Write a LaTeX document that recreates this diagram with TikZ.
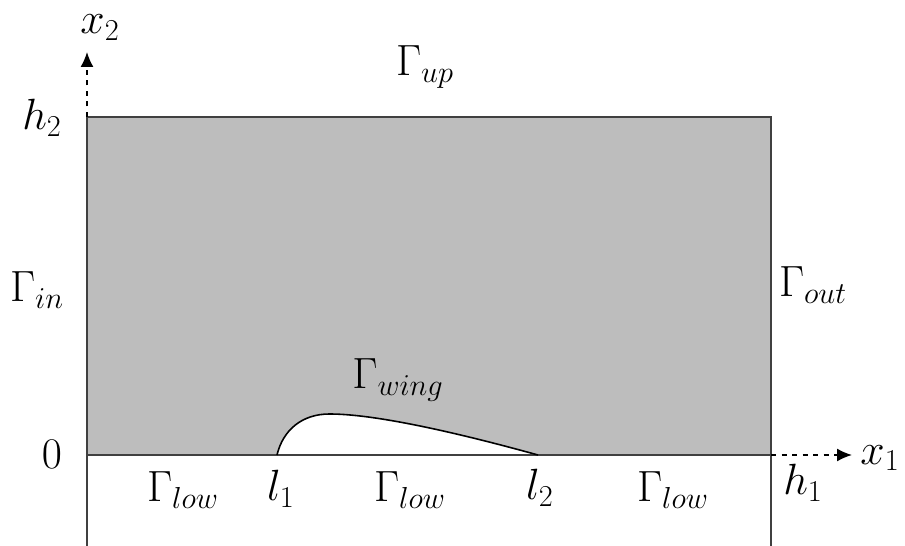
\documentclass[tikz,border=0pt]{standalone}
\usepackage{amsmath}
\usepackage{amssymb}
\usepackage{tikz}
\usetikzlibrary{positioning}
\usetikzlibrary{arrows.meta}

\begin{document}
\begin{tikzpicture}[scale=1,
  lbl/.style={font=\fontsize{23}{28}\selectfont,inner sep=1pt},
  wall/.style={draw=black!75,line width=1.1pt},
  axis/.style={dashed,line width=0.9pt,-{Latex[length=3mm,width=2.6mm]}}]
  \useasboundingbox (-1.74,-1.82) rectangle (16.36,9.1);
  \coordinate (o) at (0,0);
  \coordinate (br) at (13.68,0);
  \coordinate (tr) at (13.68,6.76);
  \coordinate (tl) at (0,6.76);
  \coordinate (lb) at (0,-1.82);
  \coordinate (rb) at (13.68,-1.82);
  \coordinate (ax2) at (0,8.06);
  \coordinate (ax1) at (15.3,0);
  \coordinate (w1) at (3.8,0);
  \coordinate (w2) at (9.02,0);
  % domain
  \fill[black!26] (o) rectangle (tr);
  \fill[white] (w1) .. controls (3.92,0.5) and (4.3,0.82) .. (4.85,0.82)
    .. controls (5.8,0.82) and (7.5,0.42) .. (w2) -- cycle;
  \draw[wall] (lb) -- (tl) -- (tr) -- (rb);
  \draw[wall] (o) -- (br);
  \draw[line width=0.9pt] (w1) .. controls (3.92,0.5) and (4.3,0.82) .. (4.85,0.82)
    .. controls (5.8,0.82) and (7.5,0.42) .. (w2);
  % axes
  \draw[axis] (tl) -- (ax2);
  \draw[axis] (br) -- (ax1);
  \node[lbl] (x2) at (0.26,8.55) {$x_2$};
  \node[lbl] (x1) at (15.86,-0.06) {$x_1$};
  \node[lbl] (h2) at (-0.9,6.74) {$h_2$};
  \node[lbl] (zero) at (-0.7,0.02) {$0$};
  \node[lbl] (h1) at (14.32,-0.56) {$h_1$};
  % boundaries
  \node[lbl] (gup) at (6.76,7.76) {$\Gamma_{up}$};
  \node[lbl] (gin) at (-1.0,3.3) {$\Gamma_{in}$};
  \node[lbl] (gout) at (14.52,3.4) {$\Gamma_{out}$};
  \node[lbl] (gwing) at (6.22,1.5) {$\Gamma_{wing}$};
  \node[lbl] (glow1) at (1.92,-0.7) {$\Gamma_{low}$};
  \node[lbl] (l1) at (3.88,-0.68) {$l_1$};
  \node[lbl] (glow2) at (6.46,-0.7) {$\Gamma_{low}$};
  \node[lbl] (l2) at (9.06,-0.66) {$l_2$};
  \node[lbl] (glow3) at (11.72,-0.7) {$\Gamma_{low}$};
\end{tikzpicture}
\end{document}
